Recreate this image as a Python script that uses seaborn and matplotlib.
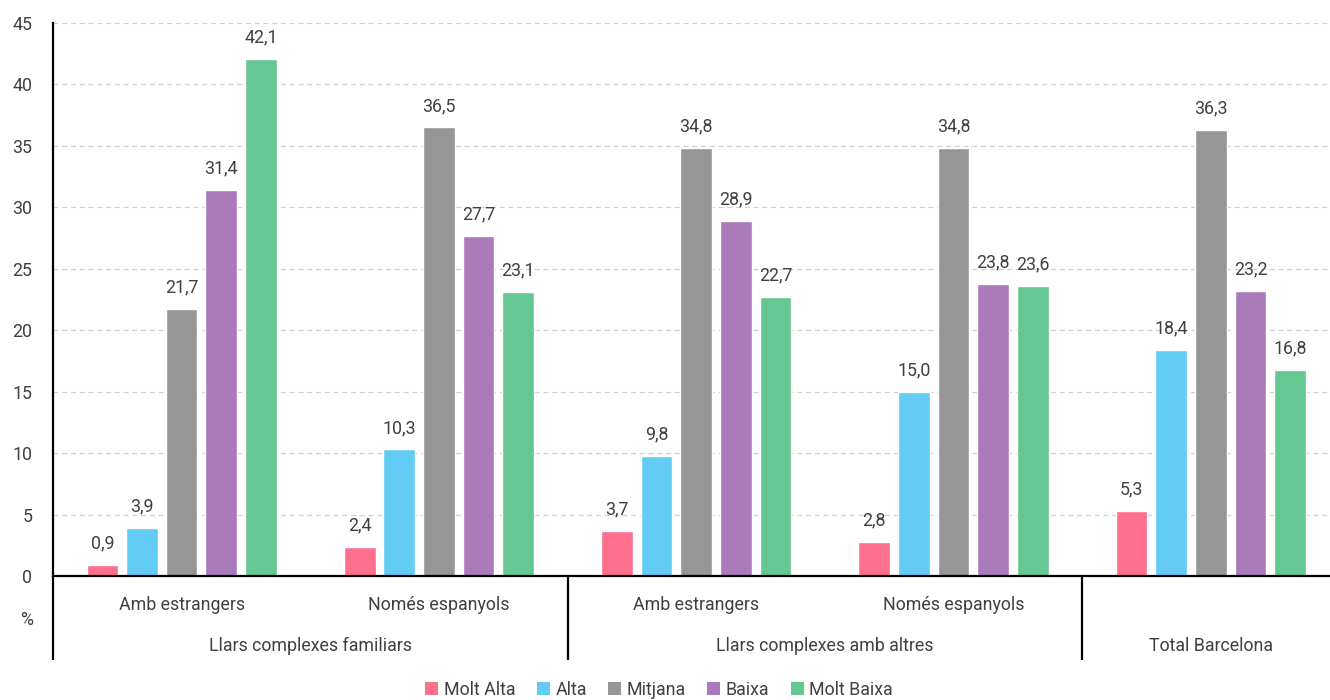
import matplotlib
matplotlib.use("Agg")
import matplotlib.pyplot as plt
import matplotlib.transforms as mtransforms
from matplotlib.patches import Patch
import seaborn as sns
import pandas as pd

# Household type groups (top level) and subgroups (second level)
group_keys = ["g1", "g2", "g3", "g4", "g5"]
sub_labels = ["Amb estrangers", "Només espanyols", "Amb estrangers", "Només espanyols", ""]
top_labels = ["Llars complexes familiars", "Llars complexes amb altres", "Total Barcelona"]
top_spans = [(0, 1), (2, 3), (4, 4)]

levels = ["Molt Alta", "Alta", "Mitjana", "Baixa", "Molt Baixa"]
colors = ["#FE6F8E", "#63CCF4", "#969696", "#AB7ABA", "#65C792"]

molt_alta = [0.9, 2.4, 3.7, 2.8, 5.3]
alta = [3.9, 10.3, 9.8, 15.0, 18.4]
mitjana = [21.7, 36.5, 34.8, 34.8, 36.3]
baixa = [31.4, 27.7, 28.9, 23.8, 23.2]
molt_baixa = [42.1, 23.1, 22.7, 23.6, 16.8]

series = [molt_alta, alta, mitjana, baixa, molt_baixa]
rows = []
for lvl, vals in zip(levels, series):
    for g, v in zip(group_keys, vals):
        rows.append({"grup": g, "nivell": lvl, "valor": v})
df = pd.DataFrame(rows)

sns.set_theme(style="white")
plt.rcParams["font.family"] = ["Roboto", "DejaVu Sans"]
text_color = "#404040"
fs = 12.8

fig = plt.figure(figsize=(13.3, 7.0), dpi=100)
ax = fig.add_axes([53 / 1330, 1 - 576 / 700, (1339.5 - 53) / 1330, 553 / 700])

sns.barplot(data=df, x="grup", y="valor", hue="nivell", order=group_keys,
            hue_order=levels, palette=colors, width=0.77, gap=0.2,
            saturation=1, legend=False, ax=ax)

for cont in ax.containers:
    ax.bar_label(cont, labels=[f"{b.get_height():.1f}".replace(".", ",") for b in cont],
                 padding=9, fontsize=fs, color=text_color)

ax.set_ylim(0, 45)
ax.set_xlim(-0.5, 4.5)
ax.set_yticks(range(0, 50, 5))
ax.yaxis.grid(True, linestyle=(0, (4, 3)), color="#D0D0D0", linewidth=0.9)
ax.set_axisbelow(True)
ax.tick_params(axis="y", length=0, pad=15, labelsize=fs, labelcolor=text_color)
ax.set_xticks([])
ax.set_xlabel("")
ax.set_ylabel("")
for side in ["top", "right"]:
    ax.spines[side].set_visible(False)
ax.spines["left"].set_color("black")
ax.spines["left"].set_linewidth(1.6)
ax.spines["bottom"].set_color("black")
ax.spines["bottom"].set_linewidth(1.6)

# Two-level category axis below the plot
trans = mtransforms.blended_transform_factory(ax.transData, ax.transAxes)
y_sub = -29 / 553
y_top = -70 / 553
y_end = -84 / 553
for i, lab in enumerate(sub_labels):
    if lab:
        ax.text(i, y_sub, lab, transform=trans, ha="center", va="center",
                fontsize=fs, color=text_color)
for lab, (a, b) in zip(top_labels, top_spans):
    ax.text((a + b) / 2, y_top, lab, transform=trans, ha="center", va="center",
            fontsize=fs, color=text_color)
for xs in [-0.5, 1.5, 3.5]:
    ax.plot([xs, xs], [0, y_end], transform=trans, color="black",
            linewidth=1.6, clip_on=False, solid_capstyle="butt")
fig.text(27 / 1330, 1 - 620 / 700, "%", ha="center", va="center",
         fontsize=fs, color=text_color)

handles = [Patch(facecolor=c, edgecolor="none") for c in colors]
fig.legend(handles, levels, loc="center", bbox_to_anchor=(659 / 1330, 1 - 690 / 700),
           ncol=5, frameon=False, fontsize=fs, handlelength=0.75, handleheight=0.75,
           handletextpad=0.3, columnspacing=1.2, labelcolor=text_color)

fig.savefig("out.png", dpi=100)
